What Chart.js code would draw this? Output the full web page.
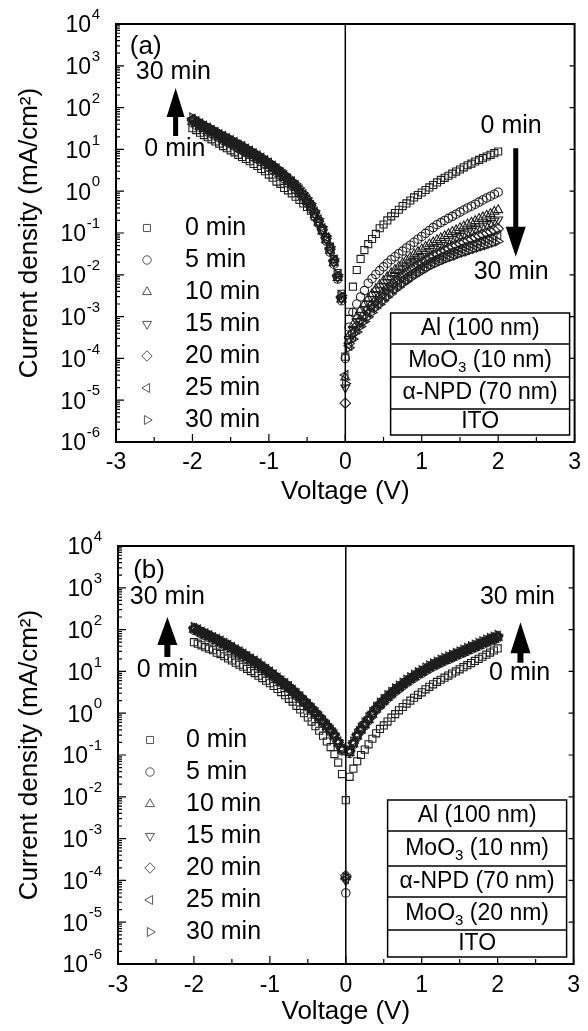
<!DOCTYPE html>
<html>
<head>
<meta charset="utf-8">
<script src="https://cdn.jsdelivr.net/npm/chart.js@4.4.0/dist/chart.umd.min.js"></script>
<style>
body{margin:0;background:#fff;width:588px;height:1031px;overflow:hidden;position:relative}
canvas{position:absolute;left:0}
#chartA{top:0}
#chartB{top:515px}
</style>
</head>
<body>
<canvas id="chartA" width="588" height="515"></canvas>
<canvas id="chartB" width="588" height="516"></canvas>
<script>
const FONT = "'Liberation Sans', Arial, sans-serif"

// bias voltage (V), shared by every sweep
const voltage = [-2,-1.95,-1.9,-1.85,-1.8,-1.75,-1.7,-1.65,-1.6,-1.55,-1.5,-1.45,-1.4,-1.35,-1.3,-1.25,-1.2,-1.15,-1.1,-1.05,
-1,-0.95,-0.9,-0.85,-0.8,-0.75,-0.7,-0.65,-0.6,-0.55,-0.5,-0.45,-0.4,-0.35,-0.3,-0.25,-0.2,-0.15,-0.1,-0.05,
0,
0.05,0.1,0.15,0.2,0.25,0.3,0.35,0.4,0.45,0.5,0.55,0.6,0.65,0.7,0.75,0.8,0.85,0.9,0.95,1,
1.05,1.1,1.15,1.2,1.25,1.3,1.35,1.4,1.45,1.5,1.55,1.6,1.65,1.7,1.75,1.8,1.85,1.9,1.95,2]

const timeLabels = ['0 min','5 min','10 min','15 min','20 min','25 min','30 min']

const yExponents = [4,3,2,1,0,-1,-2,-3,-4,-5,-6]
const xTicks = [-3,-2,-1,0,1,2,3]
const xMinor = [-2.5,-1.5,-0.5,0.5,1.5,2.5]

// (a) current density, mA/cm2
const a0 = [32,29,25,22,19.5,17.4,15.5,13.8,12,10.7,9.5,8.5,7.4,6.6,5.9,5.2,4.5,4.0,3.4,3.0,2.5,2.1,1.7,1.5,1.2,1.05,0.89,0.74,0.62,0.51,0.42,0.34,0.25,0.18,0.12,0.079,0.047,0.024,0.011,0.0035,
1.1e-4,
0.0013,0.0052,0.013,0.024,0.039,0.054,0.072,0.095,0.13,0.16,0.20,0.25,0.30,0.36,0.44,0.51,0.60,0.71,0.81,0.93,1.07,1.23,1.41,1.62,1.86,2.09,2.34,2.63,2.95,3.31,3.72,4.17,4.57,5.13,5.62,6.17,6.76,7.41,8.13,8.91]
const a5 = [43,38,34,30,26,24,21,19,16.5,15,13.5,12,10.5,9.5,8.3,7.5,6.5,5.9,5.1,4.4,3.8,3.3,2.8,2.4,2.0,1.6,1.4,1.1,0.88,0.68,0.52,0.38,0.25,0.17,0.11,0.064,0.035,0.018,0.0079,0.0024,
1.0e-4,
5.6e-4,1.26e-3,2.0e-3,2.95e-3,4.2e-3,6.3e-3,8.1e-3,0.0102,0.0126,0.0155,0.019,0.023,0.027,0.032,0.037,0.044,0.051,0.060,0.071,0.083,0.098,0.115,0.135,0.158,0.178,0.20,0.224,0.251,0.282,0.316,0.355,0.398,0.437,0.49,0.55,0.62,0.69,0.76,0.85,0.95]
const a10 = [46,41,36,32,28,26,22,20,17.6,16,14.4,12.8,11.2,10.1,8.8,8.0,7.0,6.2,5.4,4.7,4.1,3.5,3.0,2.6,2.1,1.8,1.4,1.2,0.94,0.73,0.55,0.41,0.27,0.18,0.11,0.068,0.038,0.019,0.0084,0.0026,
3.5e-5,
3.5e-4,6.3e-4,1.0e-3,1.45e-3,2.0e-3,2.7e-3,3.5e-3,4.6e-3,5.8e-3,7.2e-3,8.9e-3,0.011,0.0132,0.0158,0.019,0.0224,0.0263,0.031,0.0355,0.041,0.047,0.054,0.060,0.068,0.076,0.085,0.095,0.107,0.117,0.132,0.145,0.162,0.178,0.195,0.219,0.24,0.263,0.288,0.324,0.355]
const a15 = [49,43,38,34,29,27,24,21,18.5,16.8,15,13.4,11.8,10.6,9.4,8.4,7.3,6.6,5.7,5.0,4.3,3.7,3.1,2.7,2.2,1.8,1.5,1.26,1.0,0.76,0.58,0.43,0.29,0.18,0.12,0.071,0.039,0.020,0.0088,0.0027,
2.0e-5,
2.9e-4,5.0e-4,7.8e-4,1.1e-3,1.5e-3,2.0e-3,2.6e-3,3.3e-3,4.2e-3,5.2e-3,6.5e-3,7.8e-3,9.3e-3,0.0112,0.0135,0.0158,0.0186,0.0214,0.0245,0.028,0.032,0.037,0.042,0.046,0.051,0.058,0.065,0.071,0.078,0.085,0.093,0.102,0.112,0.123,0.135,0.148,0.162,0.174,0.195,0.209]
const a20 = [50,44,39,35,30,28,24,22,19,17.4,15.5,14,12.2,11,9.6,8.7,7.6,6.8,5.9,5.1,4.4,3.8,3.2,2.8,2.3,1.9,1.6,1.3,1.0,0.79,0.60,0.44,0.30,0.19,0.12,0.074,0.041,0.021,0.0091,0.0028,
8.5e-6,
2.3e-4,4.0e-4,6.0e-4,8.3e-4,1.1e-3,1.5e-3,1.9e-3,2.4e-3,3.0e-3,3.7e-3,4.6e-3,5.6e-3,6.8e-3,7.9e-3,9.5e-3,0.011,0.0129,0.0151,0.0174,0.0195,0.0224,0.0257,0.029,0.032,0.035,0.039,0.043,0.047,0.050,0.056,0.060,0.066,0.071,0.078,0.085,0.091,0.098,0.107,0.117,0.126]
const a25 = [54,47,42,37,33,29,26,23,21,18.5,16.5,15,13,12,10.4,9.3,8.1,7.2,6.3,5.5,4.8,4.1,3.5,2.9,2.4,2.0,1.7,1.4,1.1,0.85,0.64,0.47,0.32,0.21,0.13,0.079,0.044,0.022,0.0098,0.0030,
4.0e-5,
2.0e-4,3.4e-4,5.0e-4,6.9e-4,9.1e-4,1.2e-3,1.55e-3,1.95e-3,2.4e-3,3.0e-3,3.7e-3,4.5e-3,5.4e-3,6.3e-3,7.6e-3,8.7e-3,0.0102,0.0117,0.0135,0.0155,0.0178,0.020,0.0224,0.0245,0.027,0.0295,0.033,0.0355,0.038,0.042,0.046,0.049,0.052,0.056,0.062,0.066,0.071,0.076,0.083,0.089]
const a30 = [58,51,45,40,35,32,28,25,22,20,18,16,14,13,11,10,8.7,7.8,6.8,5.9,5.1,4.4,3.7,3.2,2.6,2.2,1.8,1.5,1.2,0.91,0.69,0.51,0.34,0.22,0.14,0.085,0.047,0.024,0.010,0.0032,
2.5e-5,
1.8e-4,2.9e-4,4.3e-4,5.8e-4,7.6e-4,9.8e-4,1.26e-3,1.6e-3,1.95e-3,2.4e-3,2.95e-3,3.5e-3,4.3e-3,5.0e-3,6.0e-3,6.9e-3,8.1e-3,9.3e-3,0.0107,0.012,0.0138,0.0155,0.0174,0.019,0.021,0.023,0.025,0.027,0.029,0.032,0.034,0.036,0.039,0.042,0.045,0.048,0.051,0.055,0.059,0.063]

// (b) current density, mA/cm2
const b0 = [50,46,42,38,35,32,28,26,23,20.4,18.2,16.2,14.5,12.9,11.5,10.2,9.1,7.9,6.9,6.0,5.2,4.5,3.8,3.2,2.7,2.2,1.9,1.5,1.23,1.0,0.79,0.63,0.49,0.38,0.29,0.21,0.155,0.105,0.066,0.035,
0.0083,
0.030,0.047,0.071,0.10,0.135,0.18,0.245,0.33,0.42,0.51,0.63,0.78,0.95,1.17,1.41,1.70,2.0,2.34,2.75,3.16,3.72,4.27,4.90,5.62,6.31,7.08,7.94,8.91,10.0,11.2,12.6,14.1,15.8,17.8,20.0,22.4,25.1,28.2,31.6,35.5]
const b5 = [97,88,78,71,64,58,52,47,42,38,34,29,26,23,20,17.6,15.6,13.6,11.6,10.1,8.6,7.3,6.2,5.3,4.5,3.9,3.2,2.6,2.2,1.8,1.4,1.16,0.92,0.73,0.58,0.45,0.35,0.27,0.185,0.126,
5e-5,
0.109,0.176,0.27,0.38,0.50,0.66,0.90,1.18,1.50,1.84,2.26,2.72,3.27,3.84,4.51,5.30,6.08,6.99,8.02,8.99,10.3,11.6,13.0,14.3,16.0,17.6,19.2,21.1,23.1,25.4,27.8,30.5,33.4,36.7,40.2,44.1,48.3,53.0,56.8,62.2]
const b10 = [100,91,81,74,66,60,54,49,43.5,39,35,30,27,24,21,18.3,16.2,14.1,12,10.4,8.9,7.6,6.4,5.5,4.7,4.0,3.3,2.7,2.3,1.83,1.48,1.2,0.96,0.76,0.6,0.47,0.37,0.28,0.19,0.13,
1.2e-4,
0.113,0.183,0.28,0.39,0.52,0.69,0.93,1.23,1.55,1.91,2.34,2.82,3.38,3.98,4.67,5.49,6.30,7.24,8.31,9.31,10.7,12.0,13.5,14.8,16.6,18.2,19.9,21.8,23.9,26.3,28.8,31.6,34.6,38.0,41.7,45.7,50.0,54.9,58.8,64.5]
const b15 = [104,95,84,77,68,62,56,50,45,40.5,36,31.5,28,25,21.6,18.9,16.7,14.6,12.4,10.8,9.2,7.8,6.7,5.7,4.9,4.1,3.4,2.8,2.3,1.9,1.53,1.24,0.99,0.78,0.62,0.49,0.38,0.29,0.2,0.135,
1.0e-4,
0.117,0.189,0.29,0.41,0.54,0.71,0.96,1.27,1.60,1.97,2.42,2.92,3.50,4.11,4.83,5.68,6.52,7.49,8.60,9.63,11.1,12.4,14.0,15.3,17.2,18.8,20.6,22.6,24.8,27.2,29.8,32.7,35.8,39.3,43.1,47.3,51.8,56.8,60.8,66.7]
const b20 = [107,98,86,79,71,64,58,52,46.5,42,37,32.5,29,25.6,22.3,19.5,17.3,15.1,12.8,11.2,9.5,8.1,6.9,5.9,5.0,4.3,3.5,2.9,2.4,1.95,1.58,1.28,1.02,0.81,0.64,0.5,0.39,0.3,0.2,0.14,
1.3e-4,
0.121,0.195,0.30,0.42,0.56,0.73,1.00,1.31,1.66,2.04,2.50,3.01,3.62,4.25,4.99,5.87,6.73,7.74,8.88,9.95,11.4,12.8,14.4,15.8,17.8,19.4,21.3,23.3,25.6,28.1,30.8,33.8,37.0,40.6,44.5,48.8,53.5,58.7,62.9,68.9]
const b25 = [110,101,89,82,73,66,60,54,48,43,38.5,33.6,30,26.4,23,20.2,17.9,15.6,13.2,11.5,9.8,8.4,7.1,6.0,5.2,4.4,3.6,3.0,2.5,2.0,1.63,1.32,1.06,0.84,0.66,0.52,0.4,0.31,0.21,0.144,
1.1e-4,
0.125,0.20,0.31,0.43,0.58,0.76,1.03,1.35,1.71,2.10,2.58,3.11,3.73,4.39,5.16,6.06,6.95,7.99,9.17,10.3,11.8,13.2,14.9,16.3,18.3,20.1,22.0,24.1,26.4,29.0,31.8,34.8,38.2,42.0,46.0,50.4,55.2,60.6,64.9,71.1]
const b30 = [115,105,93,85,76,69,62,56,50,45,40,35,31,27.5,24,21,18.6,16.2,13.8,12,10.2,8.7,7.4,6.3,5.4,4.6,3.8,3.1,2.6,2.1,1.7,1.38,1.1,0.87,0.69,0.54,0.42,0.32,0.22,0.15,
1.2e-4,
0.13,0.21,0.32,0.45,0.60,0.79,1.07,1.41,1.78,2.19,2.69,3.24,3.89,4.57,5.37,6.31,7.24,8.32,9.55,10.7,12.3,13.8,15.5,17.0,19.1,20.9,22.9,25.1,27.5,30.2,33.1,36.3,39.8,43.7,47.9,52.5,57.5,63.1,67.6,74.1]

const layersA = ['Al (100 nm)','MoO_3 (10 nm)','\u03b1-NPD (70 nm)','ITO']
const layersB = ['Al (100 nm)','MoO_3 (10 nm)','\u03b1-NPD (70 nm)','MoO_3 (20 nm)','ITO']

// open symbols, same order as timeLabels
const markers = [
  {style:'rect', rot:0, r:5},
  {style:'circle', rot:0, r:4.2},
  {style:'triangle', rot:0, r:5.2},
  {style:'triangle', rot:180, r:5.2},
  {style:'rectRot', rot:0, r:5.2},
  {style:'triangle', rot:270, r:5.2},
  {style:'triangle', rot:90, r:5.2}
]

function makeSets(series){
  return series.map((vals,i)=>({
    label: timeLabels[i],
    data: vals.map((v,k)=>({x: voltage[k], y: v})),
    showLine: false,
    pointStyle: markers[i].style,
    pointRotation: markers[i].rot,
    pointRadius: markers[i].r,
    pointBorderWidth: 1.1,
    pointBorderColor: '#1e1e1e',
    pointBackgroundColor: 'rgba(255,255,255,0)'
  }))
}

function drawArrow(ctx, px, yBase, yTip, head, hw, sw){
  const dir = yTip < yBase ? 1 : -1
  const yh = yTip + dir*head
  ctx.beginPath()
  ctx.moveTo(px - sw/2, yBase)
  ctx.lineTo(px - sw/2, yh)
  ctx.lineTo(px - hw/2, yh)
  ctx.lineTo(px, yTip)
  ctx.lineTo(px + hw/2, yh)
  ctx.lineTo(px + sw/2, yh)
  ctx.lineTo(px + sw/2, yBase)
  ctx.closePath()
  ctx.fill()
}

function layerText(ctx, text, cx, cy){
  const parts = text.split('_')
  const segs = [{t: parts[0], sub: false}]
  for(let i=1;i<parts.length;i++){
    segs.push({t: parts[i][0], sub: true})
    segs.push({t: parts[i].slice(1), sub: false})
  }
  let total = 0
  segs.forEach(s=>{
    ctx.font = (s.sub ? '15px ' : '23px ') + FONT
    s.w = ctx.measureText(s.t).width
    total += s.w
  })
  let x = cx - total/2
  ctx.textAlign = 'left'
  segs.forEach(s=>{
    ctx.font = (s.sub ? '15px ' : '23px ') + FONT
    ctx.fillText(s.t, x, s.sub ? cy + 7 : cy)
    x += s.w
  })
}

function makeDecor(o){
  return {
    id: 'decor',
    afterDraw(chart){
      const ctx = chart.ctx, a = chart.chartArea
      const xs = chart.scales.x, ys = chart.scales.y
      ctx.save()
      ctx.strokeStyle = '#000'
      ctx.fillStyle = '#000'

      // V = 0 line
      ctx.lineWidth = 1.5
      const x0 = xs.getPixelForValue(0)
      ctx.beginPath(); ctx.moveTo(x0, a.top); ctx.lineTo(x0, a.bottom); ctx.stroke()

      // inward ticks
      ctx.lineWidth = 1.2
      ctx.beginPath()
      yExponents.forEach(e=>{
        const py = ys.getPixelForValue(Math.pow(10, e))
        ctx.moveTo(a.left, py); ctx.lineTo(a.left + 8, py)
        ctx.moveTo(a.right, py); ctx.lineTo(a.right - 5, py)
        if(e < 4){
          for(let k=2;k<=9;k++){
            const pm = ys.getPixelForValue(k*Math.pow(10, e))
            ctx.moveTo(a.left, pm); ctx.lineTo(a.left + 4, pm)
          }
        }
      })
      xTicks.forEach(v=>{
        const px = xs.getPixelForValue(v)
        ctx.moveTo(px, a.bottom); ctx.lineTo(px, a.bottom - 8)
      })
      xMinor.forEach(v=>{
        const px = xs.getPixelForValue(v)
        ctx.moveTo(px, a.bottom); ctx.lineTo(px, a.bottom - 5)
      })
      ctx.stroke()

      // frame
      ctx.lineWidth = 2
      ctx.strokeRect(a.left, a.top, a.right - a.left, a.bottom - a.top)

      // y tick labels 10^n
      ctx.textBaseline = 'middle'
      yExponents.forEach(e=>{
        const py = ys.getPixelForValue(Math.pow(10, e))
        const ex = String(e)
        const right = a.left - 16
        ctx.font = '15px ' + FONT
        const ew = ctx.measureText(ex).width
        ctx.textAlign = 'left'
        ctx.fillText(ex, right - ew, py - 9)
        ctx.font = '23px ' + FONT
        ctx.textAlign = 'right'
        ctx.fillText('10', right - ew - 0.5, py + 2)
      })

      // legend
      const lg = o.legend
      chart.data.datasets.forEach((ds,i)=>{
        const ly = a.top + lg.top + i*lg.step
        ctx.fillStyle = '#fff'
        ctx.strokeStyle = '#555'
        ctx.lineWidth = 1
        Chart.helpers.drawPoint(ctx, {pointStyle: ds.pointStyle, rotation: ds.pointRotation, radius: ds.pointRadius, borderWidth: 1}, a.left + lg.mark, ly)
        ctx.fillStyle = '#000'
        ctx.font = '25px ' + FONT
        ctx.textAlign = 'left'
        ctx.fillText(ds.label, a.left + lg.text, ly)
      })

      // layer stack
      const bx = o.box
      const total = bx.rows.reduce((s,h)=>s+h, 0)
      const R = a.right - bx.right, L = R - bx.width
      let yt = a.bottom - bx.bottom - total
      ctx.fillStyle = '#fff'
      ctx.fillRect(L, yt, bx.width, total)
      ctx.strokeStyle = '#000'
      ctx.lineWidth = 1.5
      ctx.strokeRect(L, yt, bx.width, total)
      ctx.fillStyle = '#000'
      bx.layers.forEach((t,i)=>{
        const h = bx.rows[i]
        if(i > 0){ ctx.beginPath(); ctx.moveTo(L, yt); ctx.lineTo(R, yt); ctx.stroke() }
        layerText(ctx, t, (L+R)/2, yt + h/2)
        yt += h
      })

      // arrows and notes
      ctx.fillStyle = '#000'
      o.arrows.forEach(ar=>{
        drawArrow(ctx, xs.getPixelForValue(ar.x), ys.getPixelForValue(ar.from), ys.getPixelForValue(ar.to), ar.head, ar.hw, ar.sw)
      })
      o.notes.forEach(n=>{
        ctx.font = (n.size || 25) + 'px ' + FONT
        ctx.textAlign = n.align || 'center'
        ctx.fillText(n.text, xs.getPixelForValue(n.x), ys.getPixelForValue(n.y))
      })
      ctx.restore()
    }
  }
}

function makeChart(id, series, o){
  return new Chart(document.getElementById(id), {
    type: 'scatter',
    data: {datasets: makeSets(series)},
    options: {
      responsive: false,
      animation: false,
      events: [],
      layout: {padding: {top: o.top, right: o.right, left: 0, bottom: 0}},
      plugins: {legend: {display: false}, tooltip: {enabled: false}},
      scales: {
        x: {
          type: 'linear', min: -3, max: 3,
          afterBuildTicks: s => { s.ticks = xTicks.map(v => ({value: v})) },
          afterFit: s => { s.height = o.xHeight },
          grid: {display: false, drawTicks: false},
          border: {display: false},
          ticks: {color: '#000', font: {family: FONT, size: 23}, padding: o.tickPad, maxRotation: 0, autoSkip: false},
          title: {display: true, text: 'Voltage (V)', color: '#000', font: {family: FONT, size: 26}, padding: {top: 0, bottom: o.titlePad}}
        },
        y: {
          type: 'logarithmic', min: 1e-6, max: 1e4,
          afterFit: s => { s.width = o.yWidth },
          grid: {display: false, drawTicks: false},
          border: {display: false},
          ticks: {display: false},
          title: {display: true, text: 'Current density (mA/cm\u00b2)', color: '#000', font: {family: FONT, size: 26}, padding: {top: 14, bottom: 0}}
        }
      }
    },
    plugins: [makeDecor(o)]
  })
}

makeChart('chartA', [a0,a5,a10,a15,a20,a25,a30], {
  top: 24, right: 9, yWidth: 116, xHeight: 73, tickPad: 7, titlePad: 8,
  legend: {mark: 31, text: 69, top: 204, step: 32},
  box: {width: 179, right: 5, bottom: 7, rows: [31,33,32,26], layers: layersA},
  arrows: [
    {x: -2.22, from: 21, to: 295, head: 29, hw: 18, sw: 5},
    {x: 2.23, from: 10.7, to: 0.027, head: 30, hw: 20, sw: 5}
  ],
  notes: [
    {text: '(a)', x: -2.82, y: 2800, align: 'left', size: 26},
    {text: '30 min', x: -2.25, y: 708},
    {text: '0 min', x: -2.23, y: 10.2},
    {text: '0 min', x: 2.17, y: 36},
    {text: '30 min', x: 2.17, y: 0.0117}
  ]
})

makeChart('chartB', [b0,b5,b10,b15,b20,b25,b30], {
  top: 31, right: 7, yWidth: 118, xHeight: 67, tickPad: 8, titlePad: 4,
  legend: {mark: 32, text: 68, top: 194, step: 32},
  box: {width: 179, right: 7, bottom: 7, rows: [31,35,31,33,27], layers: layersB},
  arrows: [
    {x: -2.35, from: 22, to: 200, head: 28, hw: 20, sw: 6},
    {x: 2.30, from: 16, to: 150, head: 31, hw: 20, sw: 6}
  ],
  notes: [
    {text: '(b)', x: -2.80, y: 2500, align: 'left', size: 26},
    {text: '30 min', x: -2.35, y: 600},
    {text: '0 min', x: -2.35, y: 10.7},
    {text: '30 min', x: 2.26, y: 600},
    {text: '0 min', x: 2.29, y: 9.1}
  ]
})
</script>
</body>
</html>
